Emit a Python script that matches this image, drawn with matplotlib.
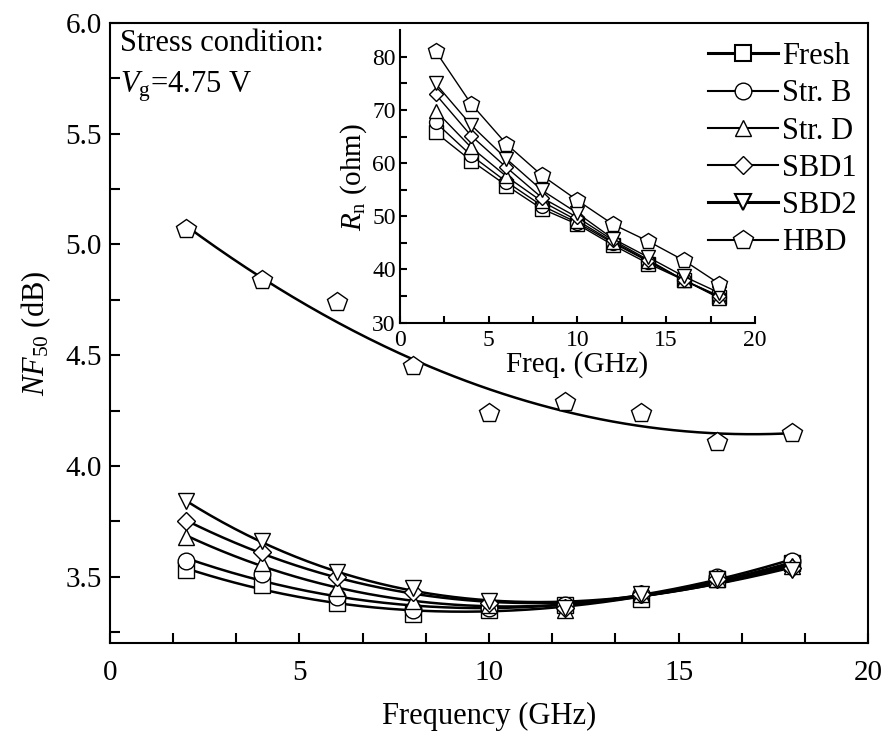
import numpy as np
import matplotlib
matplotlib.use("Agg")
import matplotlib.pyplot as plt
from matplotlib.lines import Line2D

plt.rcParams['font.family'] = ['Liberation Serif', 'DejaVu Serif']
plt.rcParams['mathtext.fontset'] = 'custom'
plt.rcParams['mathtext.rm'] = 'Liberation Serif'
plt.rcParams['mathtext.it'] = 'Liberation Serif:italic'

freq = [2, 4, 6, 8, 10, 12, 14, 16, 18]
labels = ['Fresh', 'Str. B', 'Str. D', 'SBD1', 'SBD2', 'HBD']
markers = ['s', 'o', '^', 'D', 'v', 'p']
msize = {'s': 1.0, 'o': 1.0, '^': 1.0, 'D': 0.75, 'v': 1.0, 'p': 1.2}

# NF50 (dB), main plot
nf_fresh = [3.53, 3.46, 3.38, 3.33, 3.35, 3.37, 3.40, 3.49, 3.56]
nf_strb = [3.57, 3.51, 3.41, 3.35, 3.36, 3.37, 3.42, 3.50, 3.57]
nf_strd = [3.68, 3.56, 3.45, 3.39, 3.37, 3.35, 3.42, 3.49, 3.55]
nf_sbd1 = [3.75, 3.61, 3.50, 3.43, 3.38, 3.36, 3.42, 3.49, 3.54]
nf_sbd2 = [3.84, 3.66, 3.52, 3.45, 3.39, 3.36, 3.42, 3.49, 3.53]
nf_hbd = [5.07, 4.84, 4.74, 4.45, 4.24, 4.29, 4.24, 4.11, 4.15]

# Rn (ohm), inset
rn_fresh = [65.8, 60.5, 55.8, 51.4, 48.5, 44.6, 41.1, 38.0, 34.8]
rn_strb = [67.7, 61.5, 56.5, 52.0, 48.8, 45.0, 41.5, 38.0, 34.8]
rn_strd = [69.9, 63.0, 57.5, 52.8, 49.2, 45.2, 41.6, 38.0, 34.6]
rn_sbd1 = [73.0, 65.2, 59.2, 53.5, 49.8, 45.5, 41.8, 38.0, 35.0]
rn_sbd2 = [75.0, 67.2, 60.8, 54.9, 50.6, 45.8, 42.3, 38.7, 35.6]
rn_hbd = [81.1, 71.2, 63.6, 57.7, 53.0, 48.5, 45.3, 41.7, 37.3]

nf_all = [nf_fresh, nf_strb, nf_strd, nf_sbd1, nf_sbd2, nf_hbd]
rn_all = [rn_fresh, rn_strb, rn_strd, rn_sbd1, rn_sbd2, rn_hbd]

fig = plt.figure(figsize=(8.86, 7.4), dpi=100)
ax = fig.add_axes([0.124, 0.131, 0.856, 0.838])

xs = np.linspace(2, 18, 200)
for nf, m in zip(nf_all, markers):
    deg = 2 if nf is nf_hbd else 3
    coef = np.polyfit(freq, nf, deg)
    ax.plot(xs, np.polyval(coef, xs), color='black', lw=1.8, zorder=2)
    ax.plot(freq, nf, linestyle='none', marker=m, ms=12 * msize[m], mfc='white',
            mec='black', mew=1.0, zorder=3)

ax.set_xlim(0, 20)
ax.set_ylim(3.2, 6.0)
ax.set_xticks([0, 5, 10, 15, 20])
ax.set_xticks(np.arange(0, 20.1, 5 / 3), minor=True)
ax.set_yticks([3.5, 4.0, 4.5, 5.0, 5.5, 6.0])
ax.set_yticks(np.arange(3.25, 6.0, 0.5), minor=True)
ax.tick_params(which='both', direction='in', labelsize=21, width=1.5, length=7)
ax.tick_params(axis='x', pad=12)
ax.tick_params(axis='y', pad=6)
for s in ax.spines.values():
    s.set_linewidth(1.5)
ax.set_xlabel('Frequency (GHz)', fontsize=22, labelpad=12)
ax.set_ylabel(r'$\mathit{NF}_{\mathrm{50}}$ (dB)', fontsize=22, labelpad=9)

ax.text(0.014, 0.99, 'Stress condition:', transform=ax.transAxes,
        fontsize=22, va='top', ha='left')
ax.text(0.014, 0.925, r'$\mathit{V}_{\mathrm{g}}$=4.75 V', transform=ax.transAxes,
        fontsize=22, va='top', ha='left')

# inset
ins = fig.add_axes([0.4515, 0.564, 0.4005, 0.395])
for rn, m in zip(rn_all, markers):
    ins.plot(freq, rn, color='black', lw=1.0, marker=m, ms=10 * msize[m],
             mfc='white', mec='black', mew=1.0)
ins.set_xlim(0, 20)
ins.set_ylim(30, 85)
ins.set_xticks([0, 5, 10, 15, 20])
ins.set_xticks(np.arange(2.5, 20, 5), minor=True)
ins.set_yticks([30, 40, 50, 60, 70, 80])
ins.set_yticks(np.arange(35, 85, 10), minor=True)
ins.spines['top'].set_visible(False)
ins.spines['right'].set_visible(False)
for s in ['left', 'bottom']:
    ins.spines[s].set_linewidth(1.5)
ins.patch.set_alpha(0)
ins.tick_params(which='both', direction='in', labelsize=17, width=1.5, length=5)
ins.tick_params(axis='x', pad=5)
ins.tick_params(axis='y', pad=3)
ins.set_xlabel('Freq. (GHz)', fontsize=21, labelpad=0)
ins.set_ylabel(r'$\mathit{R}_{\mathrm{n}}$ (ohm)', fontsize=21, labelpad=2)

handles = []
for lab, m in zip(labels, markers):
    lw = 2.2 if lab in ('Fresh', 'SBD2') else 1.5
    handles.append(Line2D([], [], color='black', lw=lw, marker=m, ms=12 * msize[m],
                          mfc='white', mec='black', mew=1.5 if lw > 2 else 1.0))
fig.legend(handles, labels, loc='upper right', bbox_to_anchor=(0.988, 0.968),
           frameon=False, fontsize=22, handlelength=2.3, labelspacing=0.27,
           handletextpad=0.15, borderaxespad=0.2)

fig.savefig('out.png', dpi=100)
